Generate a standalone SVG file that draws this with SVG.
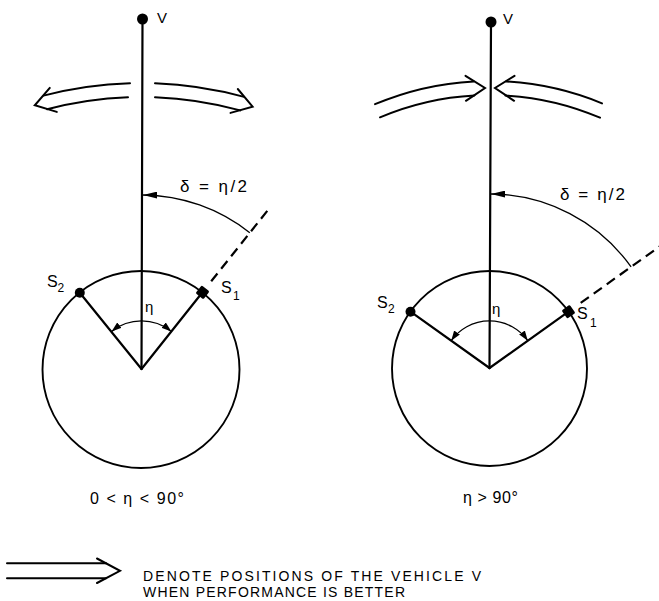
<svg xmlns="http://www.w3.org/2000/svg" width="659" height="601" viewBox="0 0 659 601">
  <style>
    .ln { stroke: #000; stroke-width: 2.2; fill: none; stroke-linecap: round; }
    .circ { stroke: #000; stroke-width: 1.9; fill: none; }
    .thin { stroke: #000; stroke-width: 1.3; fill: none; }
    .dash { stroke: #000; stroke-width: 2.2; fill: none; stroke-dasharray: 10 6; }
    .dbl { stroke: #000; stroke-width: 2; fill: none; stroke-linecap: round; stroke-linejoin: miter; }
    text { font-family: "Liberation Sans", Arial, sans-serif; fill: #000; }
    .lbl { font-size: 16px; }
    .leg { font-size: 14px; }
    .sub { font-size: 12px; }
    .v { font-size: 15px; }
    .eq { font-size: 17px; }
  </style>
  <defs>
    <marker id="aSmall" viewBox="0 0 10 7" refX="10" refY="3.5" markerWidth="10" markerHeight="7" markerUnits="userSpaceOnUse" orient="auto-start-reverse">
      <path d="M0,0 L10,3.5 L0,7 z" fill="#000"/>
    </marker>
    <marker id="aDelta" viewBox="0 0 14 7" refX="14" refY="3.5" markerWidth="14" markerHeight="7" markerUnits="userSpaceOnUse" orient="auto">
      <path d="M0,0 L14,3.5 L0,7 z" fill="#000"/>
    </marker>
  </defs>
  <rect width="659" height="601" fill="#fff"/>

  <!-- LEFT PANEL: 0 < eta < 90 -->
  <g id="left-panel">
    <g id="left-vehicle">
      <circle cx="142.5" cy="19" r="5.5" fill="#000"/>
      <text class="v" x="157" y="23">V</text>
    </g>
    <line class="ln" x1="142.5" y1="19" x2="141.5" y2="369"/>
    <circle id="left-circle" class="circ" cx="141" cy="369.5" r="98.5"/>
    <g id="left-radials">
      <line class="ln" x1="141.5" y1="369" x2="202.5" y2="292.3"/>
      <line class="ln" x1="141.5" y1="369" x2="79.8" y2="292.8"/>
    </g>
    <line class="dash" x1="211.2" y1="281.3" x2="271" y2="206.2"/>
    <g id="left-S2">
      <circle cx="79.8" cy="292.8" r="5" fill="#000"/>
      <text class="lbl" x="47" y="287">S</text>
      <text class="sub" x="57.5" y="292">2</text>
    </g>
    <g id="left-S1">
      <rect x="197.5" y="287.3" width="10" height="10" rx="1.5" fill="#000" transform="rotate(38.5 202.5 292.3)"/>
      <text class="lbl" x="221" y="293">S</text>
      <text class="sub" x="233" y="300">1</text>
    </g>
    <path class="thin" d="M 249.8 232.8 A 174 174 0 0 0 143 195" marker-end="url(#aDelta)"/>
    <text class="eq" x="180" y="192" textLength="67" lengthAdjust="spacing">δ = η/2</text>
    <path class="thin" d="M 111.6 331.4 A 48 48 0 0 1 171.4 331.4" marker-start="url(#aSmall)" marker-end="url(#aSmall)"/>
    <text class="v" x="145" y="312">η</text>
    <g id="left-arrows">
      <path class="dbl" d="M 130 83.2 A 387 387 0 0 0 43.5 95.6"/>
      <path class="dbl" d="M 128 97.2 A 373 373 0 0 0 47.1 109.2"/>
      <path class="dbl" d="M 49.8 87.9 L 34.8 105.3 L 56.8 111.9"/>
      <path class="dbl" d="M 155 83.2 A 387 387 0 0 1 244.1 96.9"/>
      <path class="dbl" d="M 155 97.2 A 373 373 0 0 1 240.3 110.4"/>
      <path class="dbl" d="M 237.8 89 L 252.6 106.6 L 230.5 112.9"/>
    </g>
    <text class="lbl" x="90" y="504" textLength="94" lengthAdjust="spacing">0 &lt; η &lt; 90°</text>
  </g>

  <!-- RIGHT PANEL: eta > 90 -->
  <g id="right-panel">
    <g id="right-vehicle">
      <circle cx="491" cy="22" r="5.5" fill="#000"/>
      <text class="v" x="503" y="24">V</text>
    </g>
    <line class="ln" x1="491" y1="22" x2="489.5" y2="368"/>
    <circle id="right-circle" class="circ" cx="489.5" cy="368.5" r="97.5"/>
    <g id="right-radials">
      <line class="ln" x1="489.5" y1="368" x2="568.5" y2="311.7"/>
      <line class="ln" x1="489.5" y1="368" x2="410.5" y2="311.7"/>
    </g>
    <line class="dash" x1="580.7" y1="302.9" x2="664.5" y2="243"/>
    <g id="right-S2">
      <circle cx="410.5" cy="311.7" r="5" fill="#000"/>
      <text class="lbl" x="377" y="308">S</text>
      <text class="sub" x="388" y="313">2</text>
    </g>
    <g id="right-S1">
      <rect x="563.5" y="306.7" width="10" height="10" rx="1.5" fill="#000" transform="rotate(54.5 568.5 311.7)"/>
      <text class="lbl" x="577" y="319">S</text>
      <text class="sub" x="590" y="327">1</text>
    </g>
    <path class="thin" d="M 631.1 266.9 A 174 174 0 0 0 491 194" marker-end="url(#aDelta)"/>
    <text class="eq" x="560" y="200" textLength="65" lengthAdjust="spacing">δ = η/2</text>
    <path class="thin" d="M 451.2 340.7 A 47 47 0 0 1 527.8 340.7" marker-start="url(#aSmall)" marker-end="url(#aSmall)"/>
    <text class="v" x="492" y="314">η</text>
    <g id="right-arrows">
      <path class="dbl" d="M 375 104.2 A 294 294 0 0 1 473.8 81.4"/>
      <path class="dbl" d="M 380 117.3 A 280 280 0 0 1 474.5 95.4"/>
      <path class="dbl" d="M 465.5 75.8 L 485 88 L 465.9 100.8"/>
      <path class="dbl" d="M 602 103.4 A 294 294 0 0 0 506.2 81.5"/>
      <path class="dbl" d="M 600 117.7 A 280 280 0 0 0 505.4 95.5"/>
      <path class="dbl" d="M 514.5 75.8 L 495 88 L 514.1 100.8"/>
    </g>
    <text class="lbl" x="463" y="503" textLength="55" lengthAdjust="spacing">η &gt; 90°</text>
  </g>

  <!-- LEGEND -->
  <g id="legend">
    <line class="dbl" x1="7" y1="563.3" x2="106" y2="563.3"/>
    <line class="dbl" x1="7" y1="578.3" x2="106" y2="578.3"/>
    <path class="dbl" d="M 97 558.5 L 120 570.8 L 97 583"/>
    <text class="leg" x="143" y="580.5" textLength="338" lengthAdjust="spacing">DENOTE POSITIONS OF THE VEHICLE V</text>
    <text class="leg" x="143" y="597" textLength="262" lengthAdjust="spacing">WHEN PERFORMANCE IS BETTER</text>
  </g>
</svg>
